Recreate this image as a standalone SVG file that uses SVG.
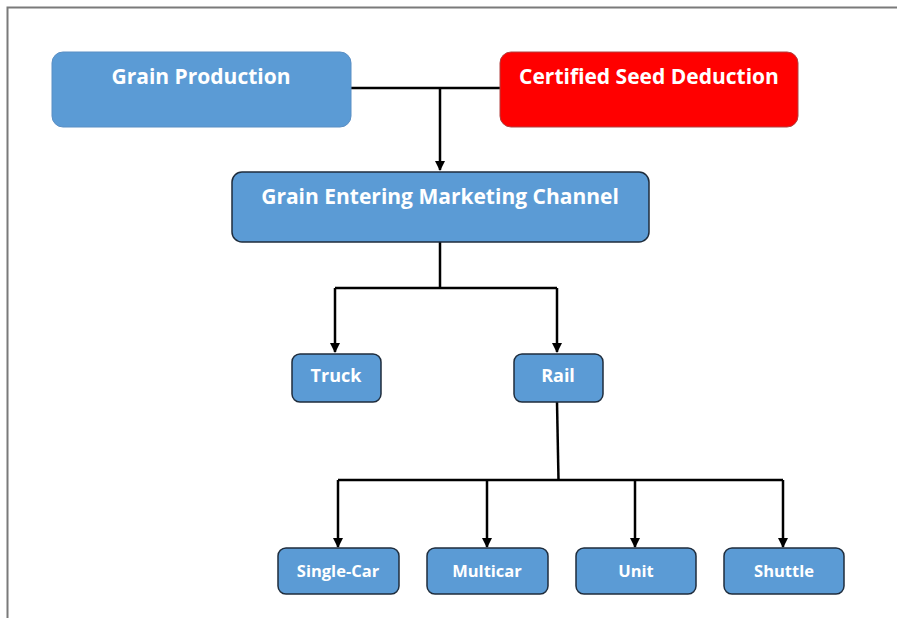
<svg xmlns="http://www.w3.org/2000/svg" width="897" height="618" viewBox="0 0 897 618">
<defs>
<marker id="arr" viewBox="0 0 10 10" refX="9" refY="5" markerWidth="4" markerHeight="4" orient="auto" markerUnits="strokeWidth">
<path d="M0,0 L10,5 L0,10 z" fill="#000"/>
</marker>
<style>
.box{fill:#5B9BD5;stroke:#1F2D3D;stroke-width:1.5}
.top{stroke:#5B8FC4;stroke-width:1}
.red{fill:#FF0000;stroke:#B04040;stroke-width:1}
.t{font-family:"Open Sans","Liberation Sans",sans-serif;font-weight:bold;fill:#fff;text-anchor:middle}
.big{font-size:21px}
.mid{font-size:18px}
.sm{font-size:16.5px}
.c{fill:none;stroke:#000;stroke-width:2.5}
</style>
</defs>
<rect width="897" height="618" fill="#fff"/>
<path d="M7.5,618 V7.5 H897" fill="none" stroke="#7a7a7a" stroke-width="2"/>
<g id="connectors">
<path class="c" d="M351,88 H500"/>
<path class="c" d="M440,88 V170" marker-end="url(#arr)"/>
<path class="c" d="M440,242 V288"/>
<path class="c" d="M335,288 H557"/>
<path class="c" d="M335,288 V352" marker-end="url(#arr)"/>
<path class="c" d="M557,288 V352" marker-end="url(#arr)"/>
<path class="c" d="M557,402 L558.5,480"/>
<path class="c" d="M338,480 H783"/>
<path class="c" d="M338,480 V547" marker-end="url(#arr)"/>
<path class="c" d="M487,480 V547" marker-end="url(#arr)"/>
<path class="c" d="M635,480 V547" marker-end="url(#arr)"/>
<path class="c" d="M783,480 V547" marker-end="url(#arr)"/>
</g>
<g id="grain-production">
<rect class="box top" x="52" y="52" width="299" height="75" rx="11"/>
<text class="t big" x="201" y="84">Grain Production</text>
</g>
<g id="certified-seed-deduction">
<rect class="red" x="500" y="52" width="298" height="75" rx="11"/>
<text class="t big" x="649" y="84">Certified Seed Deduction</text>
</g>
<g id="grain-entering">
<rect class="box" x="232" y="172" width="417" height="70" rx="10"/>
<text class="t big" x="440" y="204">Grain Entering Marketing Channel</text>
</g>
<g id="truck">
<rect class="box" x="292" y="354" width="89" height="48" rx="8"/>
<text class="t mid" x="336" y="382">Truck</text>
</g>
<g id="rail">
<rect class="box" x="514" y="354" width="89" height="48" rx="8"/>
<text class="t mid" x="558" y="382">Rail</text>
</g>
<g id="single-car">
<rect class="box" x="278" y="548" width="121" height="46" rx="8"/>
<text class="t sm" x="338" y="577">Single-Car</text>
</g>
<g id="multicar">
<rect class="box" x="427" y="548" width="121" height="46" rx="8"/>
<text class="t sm" x="487" y="577">Multicar</text>
</g>
<g id="unit">
<rect class="box" x="576" y="548" width="120" height="46" rx="8"/>
<text class="t sm" x="636" y="577">Unit</text>
</g>
<g id="shuttle">
<rect class="box" x="724" y="548" width="120" height="46" rx="8"/>
<text class="t sm" x="784" y="577">Shuttle</text>
</g>
</svg>
